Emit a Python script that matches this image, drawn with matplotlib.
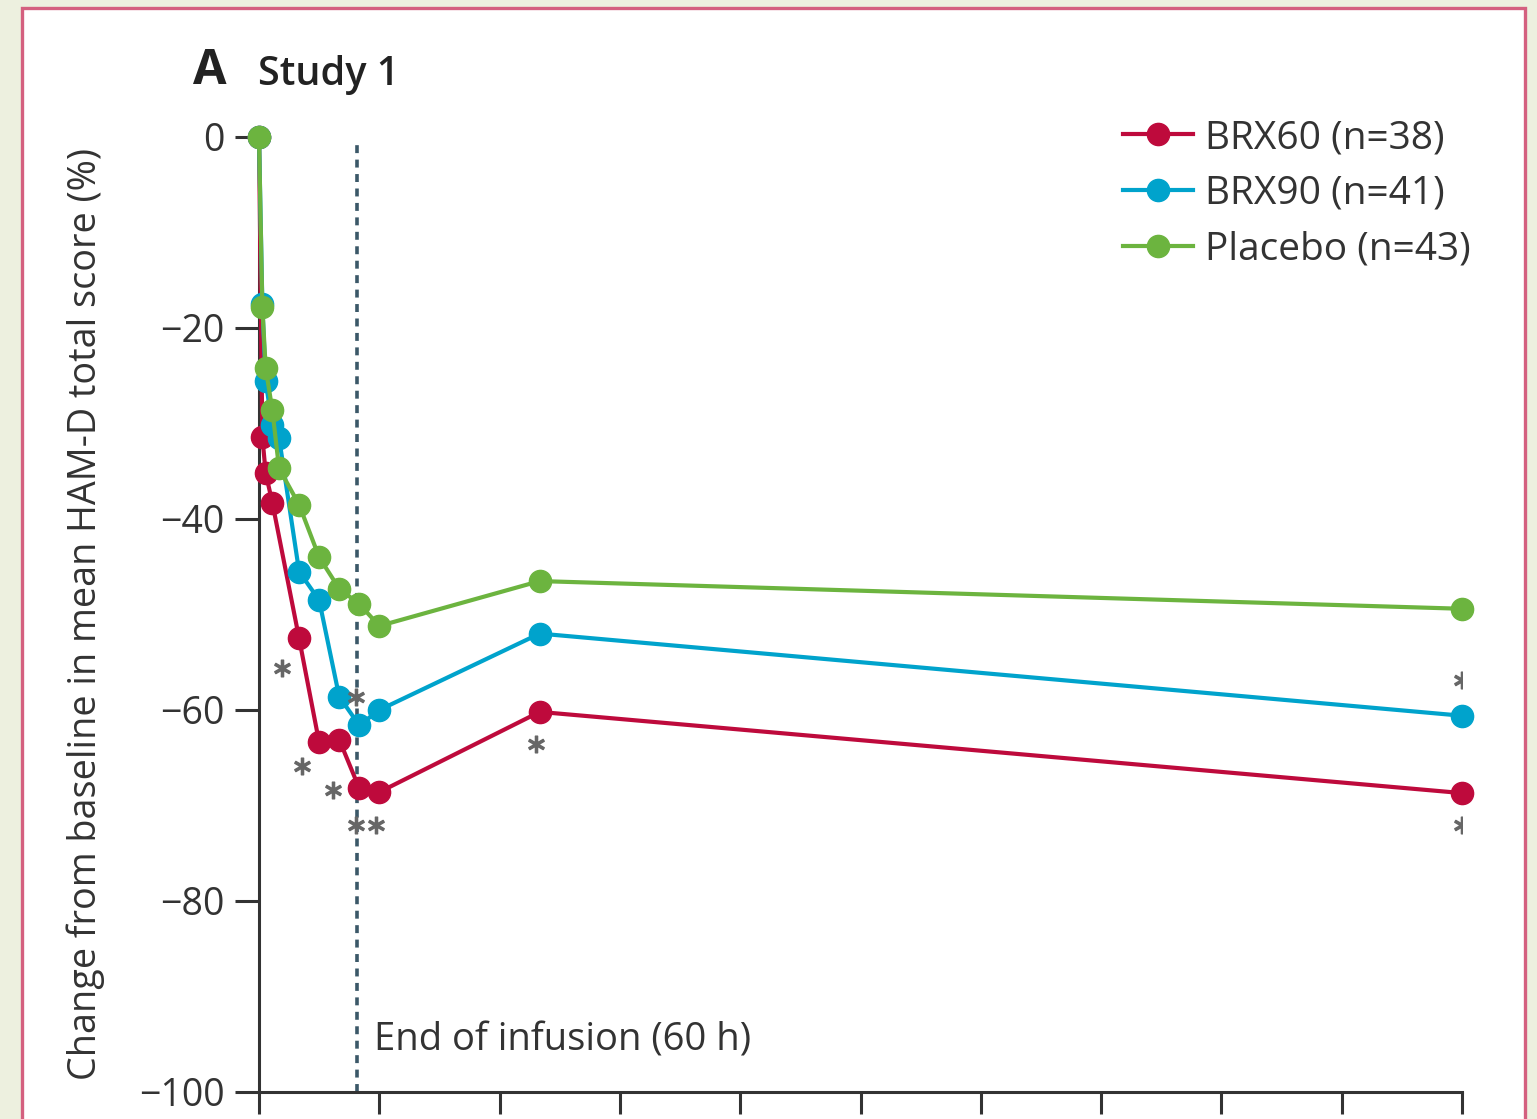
import matplotlib
matplotlib.use("Agg")
import matplotlib.pyplot as plt
from matplotlib.patches import Rectangle

# temps des évaluations (heures depuis le début de la perfusion)
hours = [0, 2, 4, 8, 12, 24, 36, 48, 60, 72, 168, 720]
hours_brx60 = [0, 2, 4, 8, 24, 36, 48, 60, 72, 168, 720]

# variation moyenne du score HAM-D (%)
brx60 = [0, -31.4, -35.2, -38.3, -52.5, -63.4, -63.1, -68.2, -68.6, -60.2, -68.7]
brx90 = [0, -17.5, -25.6, -30.2, -31.5, -45.5, -48.5, -58.6, -61.6, -60.0, -52.0, -60.6]
placebo = [0, -17.8, -24.2, -28.6, -34.7, -38.5, -44.0, -47.3, -48.9, -51.2, -46.5, -49.4]

labels = ["BRX60 (n=38)", "BRX90 (n=41)", "Placebo (n=43)"]
colors = ["#be0a3c", "#00a3cc", "#6cb43f"]

# astérisques (p<0.05)
star_hours = [14, 26, 44, 58, 58, 70, 166, 720, 720]
star_vals = [-55.6, -65.9, -68.4, -58.6, -72.0, -72.0, -63.6, -56.9, -72.0]

yticks = [0, -20, -40, -60, -80, -100]
xticks = list(range(0, 721, 72))
end_infusion = 60

txt = "#333333"
plt.rcParams["font.family"] = ["Open Sans", "DejaVu Sans"]

fig = plt.figure(figsize=(15.37, 11.19), dpi=100, facecolor="#edf0df")
# cadre rose
fig.patches.append(Rectangle((22 / 1537, -0.1), 1503 / 1537, 1.1 - 8 / 1119,
                             transform=fig.transFigure, facecolor="white",
                             edgecolor="#d4607f", lw=2.4, zorder=-5))

ax = fig.add_axes([259 / 1537, 27 / 1119, 1203 / 1537, 955 / 1119])
ax.set_facecolor("none")
ax.set_zorder(2)

series = [(hours_brx60, brx60), (hours, brx90), (hours, placebo)]
for (x, y), lab, c in zip(series, labels, colors):
    ax.plot(x, y, color=c, lw=3, marker="o", ms=16, label=lab, clip_on=False, zorder=3)

ax.plot(star_hours, star_vals, ls="none", marker="$\\ast$", ms=12, color="#666666", zorder=4)

ax.axvline(end_infusion - 1.5, ymin=0, ymax=0.997, color="#3b5868", lw=2.6, dashes=(2.2, 1.8), zorder=1)
ax.text(end_infusion + 9, -94.6, "End of infusion (60 h)", fontsize=27.5, color=txt, va="center")

ax.set_xlim(0, 720)
ax.set_ylim(-100, 0)
ax.set_yticks(yticks)
ax.set_xticks(xticks)
ax.set_xticklabels([])
ax.tick_params(axis="y", length=17, width=2.2, pad=8, labelsize=27, colors="#333333", labelcolor=txt)
ax.tick_params(axis="x", length=16, width=2.2, colors="#333333")
for s in ["top", "right"]:
    ax.spines[s].set_visible(False)
for s in ["left", "bottom"]:
    ax.spines[s].set_linewidth(2.2)
    ax.spines[s].set_color("#333333")
ax.set_ylabel("Change from baseline in mean HAM-D total score (%)", fontsize=27.2, color=txt, labelpad=24)

fig.text(193 / 1537, 1 - 72 / 1119, "A", fontsize=35, fontweight="bold", color="#222222", va="center")
fig.text(258 / 1537, 1 - 75 / 1119, "Study 1", fontsize=28.5, fontweight="semibold", color="#222222", va="center")

ax.legend(loc="upper left", bbox_to_anchor=(1123 / 1537, 1 - 119 / 1119), bbox_transform=fig.transFigure,
          frameon=False, fontsize=28, borderpad=0, borderaxespad=0,
          handlelength=1.8, handletextpad=0.3, labelspacing=0.46, labelcolor=txt)

fig.savefig("out.png", dpi=100, facecolor=fig.get_facecolor())
